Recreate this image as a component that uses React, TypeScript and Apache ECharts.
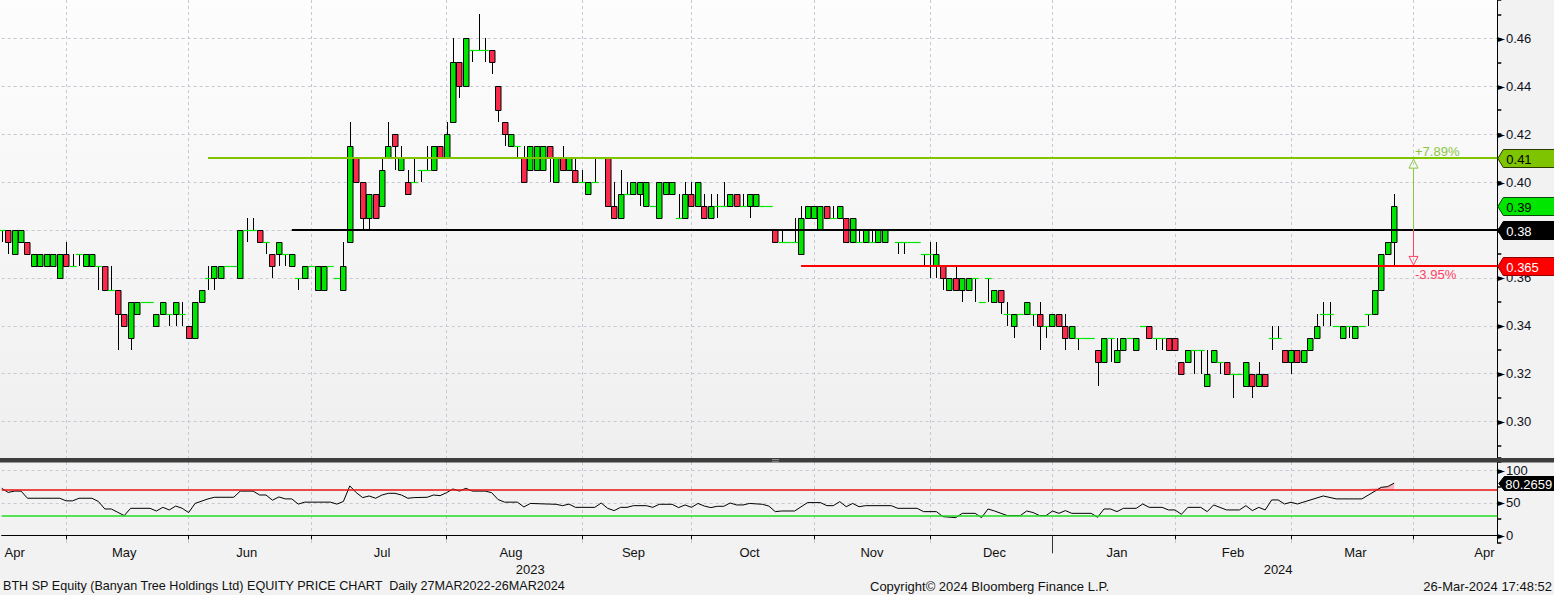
import React, { useEffect, useRef } from 'react';
import * as echarts from 'echarts';

// ---- DATA ----
// one row per trading day: [open, close, low, high]
const ohlc: number[][] = [
  [.38,.38,.375,.38],[.38,.375,.37,.38],[.37,.38,.37,.38],[.375,.38,.375,.38],[.375,.37,.37,.375],[.365,.37,.365,.37],[.365,.37,.365,.37],[.365,.37,.365,.37],[.365,.37,.365,.37],[.36,.37,.36,.37],
  [.37,.365,.365,.375],[.365,.365,.365,.37],[.37,.37,.365,.37],[.365,.37,.365,.37],[.365,.37,.365,.37],[.365,.365,.355,.365],[.365,.355,.355,.365],[.355,.355,.355,.365],[.355,.345,.33,.355],[.345,.34,.34,.345],
  [.335,.35,.33,.35],[.345,.35,.345,.35],[.35,.35,.35,.35],[.35,.35,.35,.35],[.34,.345,.34,.345],[.345,.35,.345,.35],[.345,.345,.34,.345],[.345,.35,.34,.35],[.345,.345,.34,.35],[.34,.335,.335,.34],
  [.335,.35,.335,.35],[.35,.355,.35,.355],[.36,.36,.355,.365],[.36,.365,.355,.365],[.36,.365,.36,.365],[.365,.365,.365,.365],[.365,.365,.365,.365],[.36,.38,.36,.38],[.38,.38,.375,.385],[.38,.38,.38,.385],
  [.38,.375,.375,.38],[.375,.375,.37,.375],[.37,.365,.36,.37],[.37,.375,.365,.375],[.37,.37,.365,.37],[.365,.37,.365,.37],[.36,.36,.355,.36],[.36,.365,.36,.365],[.365,.365,.365,.365],[.355,.365,.355,.365],
  [.355,.365,.355,.365],[.365,.365,.365,.365],[.36,.36,.36,.36],[.355,.365,.355,.375],[.375,.415,.375,.425],[.41,.40,.40,.41],[.40,.385,.38,.40],[.385,.395,.38,.395],[.395,.385,.385,.395],[.39,.405,.39,.41],
  [.41,.415,.41,.425],[.42,.415,.405,.42],[.405,.41,.405,.415],[.40,.395,.395,.405],[.40,.40,.40,.41],[.405,.405,.40,.405],[.405,.405,.405,.415],[.405,.415,.405,.415],[.415,.41,.41,.415],[.41,.42,.41,.425],
  [.425,.45,.425,.46],[.45,.44,.435,.45],[.44,.46,.44,.46],[.455,.455,.45,.455],[.455,.455,.455,.47],[.455,.455,.45,.46],[.455,.45,.445,.455],[.44,.43,.425,.44],[.425,.42,.415,.425],[.415,.42,.415,.42],
  [.415,.415,.41,.415],[.41,.40,.40,.415],[.405,.415,.405,.415],[.405,.415,.405,.415],[.405,.415,.405,.415],[.415,.41,.40,.415],[.40,.41,.40,.41],[.41,.405,.405,.415],[.405,.41,.405,.41],[.405,.40,.40,.41],
  [.40,.40,.40,.405],[.395,.40,.395,.40],[.40,.40,.40,.41],[.41,.41,.41,.41],[.41,.39,.39,.41],[.39,.385,.385,.40],[.385,.395,.385,.405],[.395,.395,.395,.40],[.395,.40,.395,.40],[.395,.40,.39,.40],
  [.39,.40,.39,.40],[.39,.39,.39,.39],[.385,.40,.385,.40],[.395,.40,.395,.40],[.395,.40,.395,.40],[.385,.385,.385,.395],[.385,.395,.385,.40],[.395,.39,.39,.40],[.39,.40,.39,.40],[.39,.385,.385,.395],
  [.385,.39,.385,.395],[.39,.39,.385,.395],[.39,.39,.39,.40],[.39,.395,.39,.395],[.395,.39,.39,.395],[.39,.39,.39,.395],[.39,.395,.385,.395],[.39,.395,.39,.395],[.39,.39,.39,.39],[.39,.39,.39,.39],
  [.38,.375,.375,.38],[.375,.375,.375,.38],[.375,.375,.375,.375],[.375,.375,.375,.385],[.37,.385,.37,.39],[.385,.39,.385,.39],[.385,.39,.385,.39],[.38,.39,.38,.39],[.39,.385,.385,.39],[.385,.385,.385,.39],
  [.385,.39,.385,.39],[.385,.375,.375,.385],[.375,.385,.375,.385],[.375,.375,.375,.38],[.375,.38,.375,.38],[.375,.375,.375,.38],[.375,.38,.375,.38],[.375,.38,.375,.38],[.38,.38,.38,.38],[.375,.375,.37,.375],
  [.375,.375,.37,.375],[.375,.375,.375,.375],[.375,.375,.375,.375],[.37,.37,.365,.37],[.37,.37,.36,.375],[.365,.37,.36,.375],[.365,.36,.355,.365],[.355,.36,.355,.36],[.36,.355,.355,.365],[.355,.36,.35,.36],
  [.355,.36,.355,.36],[.36,.36,.35,.36],[.35,.35,.35,.35],[.36,.36,.35,.36],[.35,.355,.35,.355],[.355,.35,.345,.355],[.345,.345,.34,.35],[.34,.345,.335,.345],[.345,.345,.345,.345],[.345,.35,.345,.35],
  [.345,.345,.34,.345],[.345,.34,.33,.35],[.34,.34,.335,.34],[.34,.345,.34,.345],[.345,.34,.34,.345],[.34,.335,.33,.345],[.335,.34,.335,.34],[.335,.335,.33,.335],[.335,.335,.335,.335],[.335,.335,.335,.335],
  [.33,.325,.315,.33],[.325,.335,.325,.335],[.335,.335,.325,.335],[.325,.33,.325,.335],[.33,.335,.33,.335],[.335,.335,.335,.335],[.33,.335,.33,.335],[.34,.34,.34,.34],[.34,.335,.335,.34],[.335,.335,.33,.335],
  [.335,.335,.33,.335],[.335,.33,.33,.335],[.335,.33,.33,.335],[.325,.32,.32,.325],[.325,.33,.325,.33],[.33,.33,.32,.33],[.33,.33,.32,.33],[.315,.32,.315,.33],[.325,.33,.325,.33],[.325,.325,.32,.325],
  [.325,.32,.32,.325],[.32,.32,.31,.32],[.32,.32,.32,.32],[.315,.325,.315,.325],[.32,.315,.31,.32],[.315,.32,.315,.325],[.32,.315,.315,.32],[.335,.335,.33,.34],[.335,.335,.335,.34],[.33,.325,.325,.33],
  [.325,.33,.32,.33],[.33,.325,.325,.33],[.325,.33,.325,.33],[.33,.335,.33,.335],[.335,.34,.335,.345],[.345,.345,.34,.35],[.345,.345,.34,.35],[.34,.34,.34,.34],[.335,.34,.335,.34],[.34,.34,.335,.34],
  [.335,.34,.335,.34],[.34,.34,.34,.34],[.345,.345,.34,.345],[.345,.355,.345,.355],[.355,.37,.355,.37],[.37,.375,.37,.375],[.375,.39,.365,.395],
];

// RSI vertices: [day index, RSI value]
const rsiPoints: number[][] = [
  [0,72.3],[1,66],[2,68],[3,68],[4,57],[9,57],[10,53],[11,53],[12,57],[14,57],[15,52],[16,40.5],[17,40.5],[18,35.4],[19,30.3],[20,41.5],[23,41.5],[24,37.4],[25,43],[26,39],
  [27,45],[28,41.5],[29,35],[30,49],[32,56],[33,58.5],[36,58.5],[37,68],[39,68],[40,62],[41,62],[42,54],[43,59],[44,56],[45,56],[46,48],[47,51],[51,51],[52,48],[53,52],
  [54,76],[55,65.6],[56,58],[57,60.5],[58,57],[59,62],[60,64.6],[61,64.6],[62,62],[63,57],[64,58],[66,58.5],[67,62],[68,61],[69,65.6],[70,71.3],[71,68],[72,72.3],[73,68],[75,68],
  [76,65.6],[77,55],[78,51],[80,51],[81,43.6],[82,49],[85,48],[86,47.7],[87,45.6],[88,48],[89,43],[90,43],[92,43],[93,49.7],[94,41.5],[95,38],[96,43],[97,43],[98,45.6],[100,45.6],
  [101,43],[102,47.7],[104,47.7],[105,42.6],[106,46.7],[107,43],[108,49],[109,45],[110,42.6],[111,44.6],[112,44.6],[113,49.7],[114,46.7],[115,46.7],[116,49],[118,47.7],[119,45],[120,36.4],
  [121,37.4],[123,37.4],[125,50.3],[127,50.3],[128,45.6],[129,45.6],[130,51.8],[131,44],[132,49],[133,44],[134,45.6],[138,45.6],[139,41.5],[142,41.5],[143,36.4],[145,36.4],[146,28.7],
  [148,27.2],[149,33.8],[151,33.8],[152,27.2],[153,40.5],[154,37.4],[156,30.3],[158,30.3],[159,37.4],[160,35],[161,30.3],[162,30.3],[163,37.4],[164,33.8],[165,38],[166,33.8],[169,33.8],
  [170,27.7],[171,40.5],[172,40.5],[173,36.4],[174,41.5],[176,41.5],[177,48.2],[178,43],[180,43],[181,39],[182,39],[183,32.3],[184,43],[186,43],[187,36.4],[188,46.7],[190,39],[192,39],
  [193,45.6],[194,38],[195,43],[196,39],[197,54.4],[198,54.4],[199,48.2],[200,50.8],[201,48.2],[205,60.5],[207,56],[211,56],[214,73.8],[215,74.9],[216,80.2659],
];
const rsiLast = 80.2659;
const rsiUpper = 70;
const rsiLower = 30;

// price levels drawn on the chart
const resistance = 0.41;
const pivot = 0.38;
const support = 0.365;
const levelValues = [resistance, pivot, support];
const levelStartIdx = [32, 45, 124];
const measureIdx = 219;

// x axis: day slots, month starts, labels
const SLOTS = 233;
const monthStartIdx = [10, 29, 48, 69, 90, 107, 126, 144, 163, 182, 200, 219];
const monthLabelIdx = [2, 19, 38, 59, 79, 98, 116, 135, 154, 173, 191, 210, 230];
const monthLabels = ['Apr', 'May', 'Jun', 'Jul', 'Aug', 'Sep', 'Oct', 'Nov', 'Dec', 'Jan', 'Feb', 'Mar', 'Apr'];
const yearLabelIdx = [82, 198];
const yearLabels = ['2023', '2024'];
const yearBreakIdx = 163;

const FOOT_LEFT = 'BTH SP Equity (Banyan Tree Holdings Ltd) EQUITY PRICE CHART  Daily 27MAR2022-26MAR2024';
const FOOT_MID = 'Copyright\u00A9 2024 Bloomberg Finance L.P.';
const FOOT_RIGHT = '26-Mar-2024 17:48:52';

// ---- STYLE ----
const FONT = '"Liberation Sans", Arial, sans-serif';
const UP = '#00e600';
const DOWN = '#fb2a4a';
const GRID_COLOR = '#c6c9d3';
const P_MIN = 0.284802;
const P_MAX = 0.476033;
const R_MIN = -11.85;
const R_MAX = 112.77;
const GL = 1.7;
const GW = 1495.6;
const levelColors = ['#80c400', '#000000', '#ff0000'];
const tagBg = ['#7fc400', '#000000', '#ff0000', '#00e600'];
const tagFg = ['#000000', '#ffffff', '#ffffff', '#000000'];
const tagBorder = ['#2a3a00', '#000000', '#900000', '#0a4a0a'];

function renderCandle(params: any, api: any) {
  const i = api.value(0);
  const o = api.value(1), c = api.value(2), lo = api.value(3), hi = api.value(4);
  const slot = api.size([1, 0])[0];
  const pO = api.coord([i, o]);
  const X = Math.round(pO[0]);
  const yO = pO[1];
  const yC = api.coord([i, c])[1];
  const yL = api.coord([i, lo])[1];
  const yH = api.coord([i, hi])[1];
  const top = Math.min(yO, yC), bot = Math.max(yO, yC);
  const children: any[] = [];
  if (yH < top - 0.5 || yL > bot + 0.5) {
    children.push({ type: 'line', shape: { x1: X + 0.5, y1: Math.round(yH), x2: X + 0.5, y2: Math.round(yL) }, style: { stroke: '#000', lineWidth: 1 } });
  }
  if (o === c) {
    const y = Math.round(yO) + 0.5;
    children.push({ type: 'line', shape: { x1: X - slot / 2, y1: y, x2: X + slot / 2 + 0.5, y2: y }, style: { stroke: UP, lineWidth: 1.2 } });
  } else {
    const t = Math.round(top) + 0.5, b = Math.round(bot) + 0.5;
    children.push({ type: 'rect', shape: { x: X - 2.5, y: t, width: 5.5, height: b - t }, style: { fill: c > o ? UP : DOWN, stroke: '#000', lineWidth: 1 } });
  }
  return { type: 'group', children };
}

function renderLevel(params: any, api: any) {
  const cs = params.coordSys;
  const right = cs.x + cs.width;
  const p = api.coord([api.value(0), api.value(1)]);
  const k = api.value(2);
  const y = Math.round(p[1]);
  return { type: 'line', shape: { x1: p[0], y1: y, x2: right, y2: y }, style: { stroke: levelColors[k], lineWidth: 2 } };
}

function renderMeasure(params: any, api: any) {
  const i = api.value(0);
  const base = api.value(1), hiV = api.value(2), loV = api.value(3);
  const x = Math.round(api.coord([i, base])[0]) + 0.5;
  const yP = api.coord([i, base])[1];
  const yR = api.coord([i, hiV])[1];
  const yS = api.coord([i, loV])[1];
  const upC = '#8cc63f', dnC = '#ff4064';
  const upPct = (hiV / base - 1) * 100;
  const dnPct = (loV / base - 1) * 100;
  return {
    type: 'group',
    children: [
      { type: 'line', shape: { x1: x, y1: yP, x2: x, y2: yR + 10 }, style: { stroke: upC, lineWidth: 1 } },
      { type: 'polygon', shape: { points: [[x, yR + 1], [x - 4.5, yR + 10], [x + 4.5, yR + 10]] }, style: { fill: 'none', stroke: upC, lineWidth: 1 } },
      { type: 'line', shape: { x1: x, y1: yP, x2: x, y2: yS - 9.5 }, style: { stroke: dnC, lineWidth: 1 } },
      { type: 'polygon', shape: { points: [[x, yS - 1], [x - 4.5, yS - 9.5], [x + 4.5, yS - 9.5]] }, style: { fill: 'none', stroke: dnC, lineWidth: 1 } },
      { type: 'text', style: { text: (upPct >= 0 ? '+' : '') + upPct.toFixed(2) + '%', x: x + 1.5, y: yR - 7, fill: upC, fontSize: 13, fontFamily: FONT, verticalAlign: 'middle' } },
      { type: 'text', style: { text: dnPct.toFixed(2) + '%', x: x + 1.5, y: yS + 9, fill: dnC, fontSize: 13, fontFamily: FONT, verticalAlign: 'middle' } },
    ],
  };
}

function renderTag(params: any, api: any) {
  const cs = params.coordSys;
  const R = cs.x + cs.width;
  const v = api.value(1);
  const k = api.value(2);
  const y = Math.round(api.coord([0, v])[1]) + 0.5;
  const h = 9;
  return {
    type: 'group',
    children: [
      { type: 'polygon', shape: { points: [[R + 0.5, y], [R + 6, y - h], [R + 62, y - h], [R + 62, y + h], [R + 6, y + h]] }, style: { fill: tagBg[k], stroke: tagBorder[k], lineWidth: 1 } },
      { type: 'text', style: { text: String(v), x: R + 9, y: y + 0.5, fill: tagFg[k], fontSize: 13, fontFamily: FONT, verticalAlign: 'middle' } },
    ],
  };
}

function renderRsiTag(params: any, api: any) {
  const cs = params.coordSys;
  const R = cs.x + cs.width;
  const v = api.value(1);
  const y = Math.round(api.coord([api.value(0), v])[1]) + 0.5;
  const h = 7;
  return {
    type: 'group',
    children: [
      { type: 'polygon', shape: { points: [[R + 1.5, y], [R + 7, y - h], [R + 62, y - h], [R + 62, y + h], [R + 7, y + h]] }, style: { fill: '#000', stroke: '#000', lineWidth: 1 } },
      { type: 'text', style: { text: String(v), x: R + 8, y: y + 0.5, fill: '#fff', fontSize: 13, fontFamily: FONT, verticalAlign: 'middle' } },
    ],
  };
}

export default function App() {
  const ref = useRef<HTMLDivElement>(null);

  useEffect(() => {
    const chart = echarts.init(ref.current!, null, { renderer: 'svg' });
    const cats = Array.from({ length: SLOTS }, (_, i) => String(i));
    const monthStartSet = new Set(monthStartIdx);
    const labelMap = new Map(monthLabelIdx.map((k, j) => [k, monthLabels[j]]));
    const yearMap = new Map(yearLabelIdx.map((k, j) => [k, yearLabels[j]]));
    const dashed = { color: GRID_COLOR, type: [3, 3] as any, width: 1 };
    const lastClose = ohlc[ohlc.length - 1][1];
    const levelRows = levelValues.map((v, k) => [levelStartIdx[k], v, k]);
    const tagRows = [[0, resistance, 0], [0, lastClose, 3], [0, pivot, 1], [0, support, 2]];
    const overData = rsiPoints.filter((p) => p[0] >= 211).map((p) => [p[0], Math.max(p[1], rsiUpper)]);
    const axisLab = (fmt: (v: number) => string) => ({
      show: true,
      margin: 0,
      showMinLabel: false,
      showMaxLabel: false,
      formatter: (v: number) => '{a|\u25BA}{b|' + fmt(v) + '}',
      rich: {
        a: { fontSize: 10, fontFamily: 'DejaVu Sans', color: '#000' },
        b: { fontSize: 13, fontFamily: FONT, color: '#0d1020', padding: [0, 0, 0, 1] },
      },
    });

    const option: any = {
      animation: false,
      backgroundColor: '#f2f2f2',
      textStyle: { fontFamily: FONT },
      graphic: [
        {
          type: 'rect', z: -10, silent: true,
          shape: { x: 0, y: 0, width: GL + GW, height: 458 },
          style: { fill: new echarts.graphic.LinearGradient(0, 0, 0, 1, [{ offset: 0, color: '#fdfdfd' }, { offset: 1, color: '#efefef' }]) },
        },
        { type: 'rect', z: 20, silent: true, shape: { x: 0, y: 458, width: 1554, height: 4.5 }, style: { fill: '#3d3d3d' } },
        { type: 'line', z: 21, silent: true, shape: { x1: 772, y1: 459.5, x2: 779, y2: 459.5 }, style: { stroke: '#9a9a9a', lineWidth: 0.8 } },
        { type: 'line', z: 21, silent: true, shape: { x1: 772, y1: 461.3, x2: 779, y2: 461.3 }, style: { stroke: '#9a9a9a', lineWidth: 0.8 } },
        { type: 'text', z: 10, x: 3, y: 586, style: { text: FOOT_LEFT, fill: '#111', fontSize: 12.6, fontFamily: FONT, verticalAlign: 'middle' } },
        { type: 'text', z: 10, x: 870, y: 586, style: { text: FOOT_MID, fill: '#111', fontSize: 13, fontFamily: FONT, verticalAlign: 'middle' } },
        { type: 'text', z: 10, x: 1552, y: 586, style: { text: FOOT_RIGHT, fill: '#111', fontSize: 13, fontFamily: FONT, align: 'right', verticalAlign: 'middle' } },
      ],
      grid: [
        { left: GL, top: 0, width: GW, height: 458, show: false },
        { left: GL, top: 462, width: GW, height: 81, show: false },
      ],
      xAxis: [
        {
          type: 'category', gridIndex: 0, data: cats, boundaryGap: false,
          axisLine: { show: false }, axisTick: { show: false }, axisLabel: { show: false },
          splitLine: { show: true, interval: (i: number) => monthStartSet.has(i), lineStyle: dashed },
        },
        {
          type: 'category', gridIndex: 1, data: cats, boundaryGap: false,
          axisLine: { show: true, lineStyle: { color: '#000', width: 1 } },
          axisTick: { show: true, interval: (i: number) => monthStartSet.has(i), length: 4, lineStyle: { color: '#000' } },
          axisLabel: {
            show: true, interval: (i: number) => labelMap.has(i),
            formatter: (_v: string, i: number) => labelMap.get(i) || '',
            margin: 3, fontSize: 13, color: '#111', fontFamily: FONT,
          },
          splitLine: { show: true, interval: (i: number) => monthStartSet.has(i), lineStyle: dashed },
        },
        {
          type: 'category', gridIndex: 1, data: cats, boundaryGap: false, position: 'bottom', offset: 7,
          axisLine: { show: false },
          axisTick: { show: true, interval: (i: number) => i === yearBreakIdx, length: 18, lineStyle: { color: '#333' } },
          axisLabel: {
            show: true, interval: (i: number) => yearMap.has(i),
            formatter: (_v: string, i: number) => yearMap.get(i) || '',
            margin: 13, fontSize: 13, color: '#111', fontFamily: FONT,
          },
          splitLine: { show: false },
        },
      ],
      yAxis: [
        {
          type: 'value', gridIndex: 0, position: 'right', min: P_MIN, max: P_MAX,
          minInterval: 0.02, maxInterval: 0.02, splitNumber: 10,
          axisLine: { show: true, lineStyle: { color: '#000', width: 1 } },
          axisTick: { show: false },
          axisLabel: axisLab((v) => v.toFixed(2)),
          splitLine: { show: true, showMinLine: false, showMaxLine: false, lineStyle: dashed },
        },
        {
          type: 'value', gridIndex: 0, position: 'right', min: P_MIN, max: P_MAX,
          minInterval: 0.01, maxInterval: 0.01, splitNumber: 20,
          axisLine: { show: false },
          axisTick: { show: true, length: 4, lineStyle: { color: '#000', width: 1.5 } },
          axisLabel: { show: false }, splitLine: { show: false },
        },
        {
          type: 'value', gridIndex: 1, position: 'right', min: R_MIN, max: R_MAX,
          minInterval: 50, maxInterval: 50, splitNumber: 2,
          axisLine: { show: true, lineStyle: { color: '#000', width: 1 } },
          axisTick: { show: false },
          axisLabel: axisLab((v) => String(v)),
          splitLine: { show: true, showMinLine: false, showMaxLine: false, lineStyle: dashed },
        },
        {
          type: 'value', gridIndex: 1, position: 'right', min: R_MIN, max: R_MAX,
          minInterval: 25, maxInterval: 25, splitNumber: 4,
          axisLine: { show: false },
          axisTick: { show: true, length: 4, lineStyle: { color: '#000', width: 1.5 } },
          axisLabel: { show: false }, splitLine: { show: false },
        },
      ],
      series: [
        {
          type: 'custom', name: 'BTH SP', xAxisIndex: 0, yAxisIndex: 0, clip: false, z: 2,
          data: ohlc.map((d, i) => [i, d[0], d[1], d[2], d[3]]),
          encode: { x: 0, y: [1, 2, 3, 4] },
          renderItem: renderCandle,
        },
        {
          type: 'custom', name: 'levels', xAxisIndex: 0, yAxisIndex: 0, clip: false, z: 3,
          data: levelRows, encode: { x: 0, y: 1 }, renderItem: renderLevel,
        },
        {
          type: 'custom', name: 'measure', xAxisIndex: 0, yAxisIndex: 0, clip: false, z: 4,
          data: [[measureIdx, pivot, resistance, support]], encode: { x: 0, y: 1 }, renderItem: renderMeasure,
        },
        {
          type: 'custom', name: 'tags', xAxisIndex: 0, yAxisIndex: 0, clip: false, z: 6,
          data: tagRows, encode: { x: 0, y: 1 }, renderItem: renderTag,
        },
        {
          type: 'line', name: 'RSI overbought', xAxisIndex: 1, yAxisIndex: 2, z: 2,
          data: overData, symbol: 'none', lineStyle: { width: 0, opacity: 0 },
          areaStyle: { origin: rsiUpper, color: '#f7b7c0', opacity: 1 },
        },
        {
          type: 'line', name: 'RSI', xAxisIndex: 1, yAxisIndex: 2, z: 4,
          data: rsiPoints, symbol: 'none', lineStyle: { color: '#000', width: 1 },
          markLine: {
            silent: true, symbol: ['none', 'none'], label: { show: false }, animation: false,
            data: [
              { yAxis: rsiUpper, lineStyle: { color: '#e81010', width: 1.5, type: 'solid' } },
              { yAxis: rsiLower, lineStyle: { color: '#20dd20', width: 1.5, type: 'solid' } },
            ],
          },
        },
        {
          type: 'custom', name: 'rsiTag', xAxisIndex: 1, yAxisIndex: 2, clip: false, z: 6,
          data: [[ohlc.length - 1, rsiLast]], encode: { x: 0, y: 1 }, renderItem: renderRsiTag,
        },
      ],
    };
    chart.setOption(option);
    return () => chart.dispose();
  }, []);

  return (
    <div
      ref={ref}
      style={{ position: 'fixed', left: 0, top: 0, width: 1554, height: 595, background: '#f2f2f2' }}
    />
  );
}
